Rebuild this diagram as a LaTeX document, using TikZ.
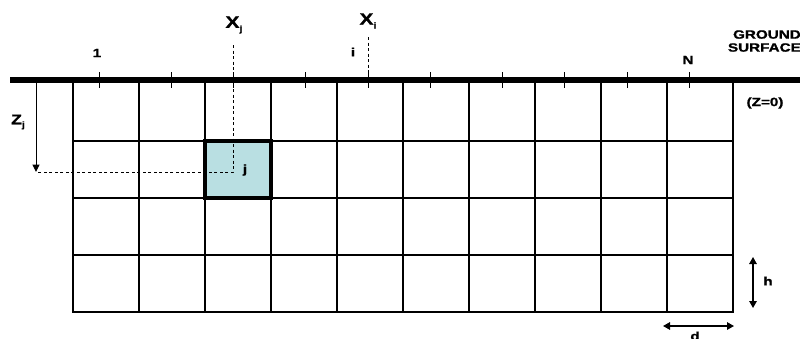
\documentclass[tikz,border=0pt]{standalone}
\usepackage{fontspec}
\setmainfont{Liberation Sans}[FakeStretch=1.27, BoldFont={Liberation Sans Bold}, BoldFeatures={FakeStretch=1.27, FakeBold=1.2}]
\usetikzlibrary{arrows.meta}
\definecolor{cellblue}{RGB}{185,223,226}
\newcommand{\subj}[1]{\raisebox{-0.45ex}{\fontsize{8.5}{8.5}\selectfont #1}}
\begin{document}
\begin{tikzpicture}[x=1pt,y=-1pt,
  lbl/.style={font=\bfseries\fontsize{12}{13}\selectfont, inner sep=0pt},
  biglbl/.style={font=\bfseries\fontsize{16.5}{18}\selectfont, inner sep=0pt},
  gridline/.style={line width=1.8pt},
  dashline/.style={dash pattern=on 3pt off 2.5pt, line width=0.8pt},
  tickline/.style={line width=1pt},
  dimarrow/.style={line width=1.4pt, {Triangle[length=7pt,width=7.5pt]}-{Triangle[length=7pt,width=7.5pt]}}]
\useasboundingbox (0,0) rectangle (800,338);
% highlighted cell
\fill[cellblue] (205,141) rectangle (271,198);
% grid
\foreach \x in {73,139,...,733} \draw[gridline] (\x,82) -- (\x,312);
\foreach \y in {141,198,255,312} \draw[gridline] (72.1,\y) -- (733.9,\y);
\draw[line width=3.2pt] (205,141) rectangle (271,198);
% ground surface
\draw[line width=5.5pt] (10,80) -- (800,80);
\foreach \x in {99,171,233,305,368,430,502,564,627,689} \draw[tickline] (\x,72) -- (\x,88);
% coordinates
\coordinate (xjtop) at (233,45);
\coordinate (xjcorner) at (233,172);
\coordinate (zjend) at (36,172);
\coordinate (zjstart) at (36,83);
\coordinate (xitop) at (368,37);
\coordinate (xibot) at (368,88);
\draw[dashline] (xjtop) -- (xjcorner) -- (zjend);
\draw[dashline] (xitop) -- (xibot);
\draw[line width=1pt, -{Triangle[length=7.5pt,width=7pt]}] (zjstart) -- (zjend);
% labels
\node[biglbl] (lxj) at (234,25) {X\subj{j}};
\node[biglbl] (lxi) at (368,21) {X\subj{i}};
\node[lbl] (l1) at (97,53) {1};
\node[lbl] (li) at (353,52) {i};
\node[lbl] (lN) at (688,60) {N};
\node[lbl, align=right, anchor=east] (lgs) at (801,41) {GROUND\\SURFACE};
\node[lbl] (lz0) at (765,103) {(Z=0)};
\node[font=\bfseries\fontsize{14}{16}\selectfont, inner sep=0pt] (lzj) at (18,122) {Z\subj{j}};
\node[lbl] (lj) at (245,170) {j};
\node[lbl] (lh) at (768,281) {h};
\node[lbl] (ld) at (695,336) {d};
% dimension arrows
\coordinate (htop) at (753,257);
\coordinate (hbot) at (753,308);
\coordinate (dl) at (663,326);
\coordinate (dr) at (734,326);
\draw[dimarrow] (htop) -- (hbot);
\draw[dimarrow] (dl) -- (dr);
\end{tikzpicture}
\end{document}
